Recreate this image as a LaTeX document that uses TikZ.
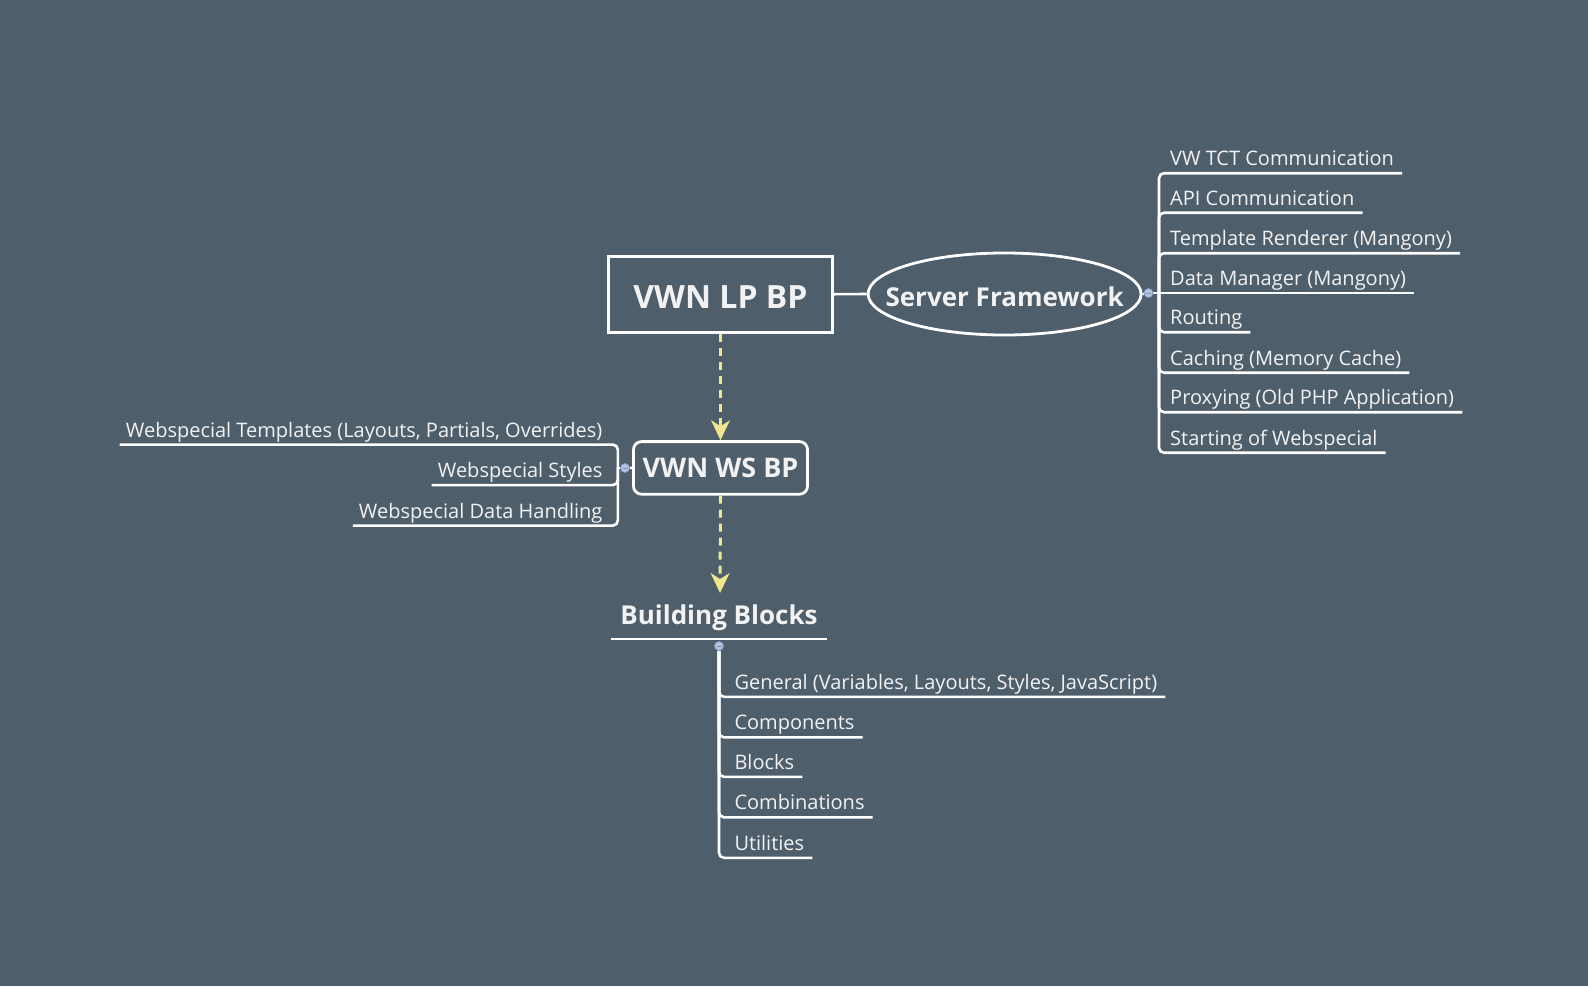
\documentclass[tikz,border=0pt]{standalone}
\usepackage{fontspec}
\setmainfont{Open Sans}
\usetikzlibrary{arrows.meta,shapes.geometric}
\definecolor{bg}{HTML}{4F5E6B}
\definecolor{txt}{HTML}{F2F2F2}
\definecolor{arr}{HTML}{EEE78B}
\definecolor{dotf}{HTML}{B5C3E4}
\definecolor{dotd}{HTML}{7F90B8}
\begin{document}
\begin{tikzpicture}[x=1pt,y=-1pt,
  conn/.style={draw=white,line width=2.6pt,rounded corners=5pt},
  leaf/.style={text=txt,font=\fontsize{20}{24}\selectfont,inner sep=0pt},
  bold/.style={text=txt,font=\bfseries\fontsize{26}{31}\selectfont},
  frame/.style={draw=white,line width=2.8pt},
  dep/.style={draw=arr,line width=3pt,dash pattern=on 8pt off 6pt,
    -{Stealth[length=20pt,width=19pt,inset=6pt,line width=0pt]}},
  dot/.style={circle,fill=dotf,draw=dotd,line width=0.6pt,minimum size=9pt,inner sep=0pt,
    path picture={\draw[dotd,line width=1pt]
      ([xshift=-2.5pt]path picture bounding box.center) -- ([xshift=2.5pt]path picture bounding box.center);}}
]
\fill[bg] (0,0) rectangle (1588,986);
\useasboundingbox (0,0) rectangle (1588,986);

% main nodes
\node[frame,minimum width=224pt,minimum height=76pt,text=txt,text height=28.8pt,text depth=0pt,
      font=\bfseries\fontsize{32}{38}\selectfont] (lp) at (720.5,294.2) {VWN LP BP};
\node[frame,ellipse,minimum width=273pt,minimum height=82pt,inner sep=0pt,bold,
      text height=24.6pt,text depth=0pt] (sf) at (1004.6,294)
      {\makebox[0pt]{Server Framework}};
\node[frame,rounded corners=8pt,minimum width=174pt,minimum height=52.6pt,
      text=txt,font=\bfseries\fontsize{27}{32}\selectfont] (ws) at (720.5,467.9) {VWN WS BP};
\node[bold,anchor=base,inner sep=0pt] (bb) at (719,624) {Building Blocks};
\coordinate (bbtip) at (720,593);

\draw[conn] (lp.east) -- (sf.west);
\draw[dep] (lp.south) -- (ws.north);
\draw[dep] (ws.south) -- (bbtip);
\draw[white,line width=2.6pt] ([shift={(-9,15)}]bb.base west) -- ([shift={(9,15)}]bb.base east);

% right group
\coordinate (jR) at (1159,293);
\node[leaf,anchor=base west] (r1) at (1170,165.7) {VW TCT Communication};
\node[leaf,anchor=base west] (r2) at (1170,205.2) {API Communication};
\node[leaf,anchor=base west] (r3) at (1170,245.7) {Template Renderer (Mangony)};
\node[leaf,anchor=base west] (r4) at (1170,285.5) {Data Manager (Mangony)};
\node[leaf,anchor=base west] (r5) at (1170,324.7) {Routing};
\node[leaf,anchor=base west] (r6) at (1170,365.2) {Caching (Memory Cache)};
\node[leaf,anchor=base west] (r7) at (1170,404.7) {Proxying (Old PHP Application)};
\node[leaf,anchor=base west] (r8) at (1170,445.2) {Starting of Webspecial};
\foreach \n in {r1,r2,r3,r5,r6,r7,r8}
  \draw[conn] (jR) |- ([shift={(8,7.5)}]\n.base east);
\draw[conn] (jR) -- ([shift={(8,7.5)}]r4.base east);
\node[dot] (dr) at (1148.5,293) {};
\draw[conn] (sf.east) -- (dr);
\draw[conn] (dr) -- (jR);
\node[dot] at (dr) {};

% left group
\coordinate (jL) at (617.8,468);
\node[leaf,anchor=base east] (l1) at (602.6,437.1) {Webspecial Templates (Layouts, Partials, Overrides)};
\node[leaf,anchor=base east] (l2) at (602.6,477.6) {Webspecial Styles};
\node[leaf,anchor=base east] (l3) at (602.6,518.1) {Webspecial Data Handling};
\foreach \n in {l1,l2,l3}
  \draw[conn] (jL) |- ([shift={(-6,7.5)}]\n.base west);
\node[dot] (dl) at (625,468) {};
\draw[conn] (ws.west) -- (dl);
\draw[conn] (dl) -- (jL);
\node[dot] at (dl) {};

% bottom group
\node[leaf,anchor=base west] (b1) at (734.3,689.3) {General (Variables, Layouts, Styles, JavaScript)};
\node[leaf,anchor=base west] (b2) at (734.3,729.8) {Components};
\node[leaf,anchor=base west] (b3) at (734.3,769.3) {Blocks};
\node[leaf,anchor=base west] (b4) at (734.3,809.8) {Combinations};
\node[leaf,anchor=base west] (b5) at (734.3,850.3) {Utilities};
\node[dot] (db) at (719,646) {};
\foreach \n in {b1,b2,b3,b4,b5}
  \draw[conn] (db) |- ([shift={(8,7.5)}]\n.base east);
\node[dot] at (db) {};
\end{tikzpicture}
\end{document}
